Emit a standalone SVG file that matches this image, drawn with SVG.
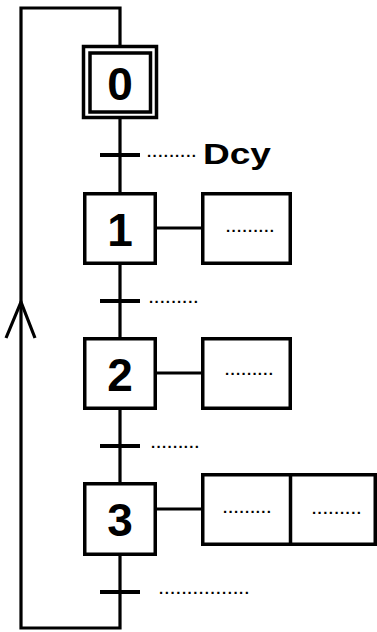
<svg xmlns="http://www.w3.org/2000/svg" width="377" height="632" viewBox="0 0 377 632">
<style>
.box{fill:#fff;stroke:#000;stroke-width:3.5}
.ln{fill:none;stroke:#000;stroke-width:3.2}
.bar{stroke:#000;stroke-width:4}
.num{font-family:"Liberation Sans",Arial,sans-serif;font-weight:bold;font-size:46px;text-anchor:middle;fill:#000}
.dots{font-family:"Liberation Sans",Arial,sans-serif;font-weight:bold;font-size:15px;fill:#000}
.lbl{font-family:"Liberation Sans",Arial,sans-serif;font-weight:bold;font-size:30px;fill:#000}
</style>
<rect width="377" height="632" fill="#fff"/>
<g id="connectors">
<path class="ln" d="M120,119 V192 M120,265 V337 M120,410 V482 M120,556 V628 H21 V8 H120 V45"/>
<path class="ln" d="M6,338 L21,302 L35,338"/>
<path class="ln" d="M157,228 H201 M157,373 H201 M157,509 H201"/>
</g>
<g id="step0">
<rect class="box" x="83.5" y="46.5" width="73" height="71"/>
<rect class="box" x="90" y="53" width="60.5" height="59"/>
<text class="num" x="120" y="100">0</text>
</g>
<g id="t1">
<line class="bar" x1="100" y1="155" x2="140" y2="155"/>
<text class="dots" x="147" y="157" textLength="49" lengthAdjust="spacing">.........</text>
<text class="lbl" x="203" y="164" textLength="68" lengthAdjust="spacingAndGlyphs">Dcy</text>
</g>
<g id="step1">
<rect class="box" x="84.75" y="193.75" width="70.5" height="69.5"/>
<text class="num" x="120" y="246">1</text>
</g>
<g id="action1">
<rect class="box" x="202.75" y="193.75" width="87.5" height="69.5"/>
<text class="dots" x="226" y="232" textLength="48" lengthAdjust="spacing">.........</text>
</g>
<g id="t2">
<line class="bar" x1="100" y1="301" x2="140" y2="301"/>
<text class="dots" x="149" y="303" textLength="49" lengthAdjust="spacing">.........</text>
</g>
<g id="step2">
<rect class="box" x="84.75" y="338.75" width="70.5" height="69.5"/>
<text class="num" x="120" y="391">2</text>
</g>
<g id="action2">
<rect class="box" x="202.75" y="338.75" width="87.5" height="69.5"/>
<text class="dots" x="225" y="375" textLength="48" lengthAdjust="spacing">.........</text>
</g>
<g id="t3">
<line class="bar" x1="100" y1="446" x2="140" y2="446"/>
<text class="dots" x="151" y="448" textLength="48" lengthAdjust="spacing">.........</text>
</g>
<g id="step3">
<rect class="box" x="84.75" y="483.75" width="70.5" height="70.5"/>
<text class="num" x="120" y="536">3</text>
</g>
<g id="action3">
<rect class="box" x="202.75" y="474.75" width="172.5" height="69.5"/>
<line class="ln" x1="290.5" y1="474.75" x2="290.5" y2="544.25" style="stroke-width:3.5"/>
<text class="dots" x="223" y="513" textLength="48" lengthAdjust="spacing">.........</text>
<text class="dots" x="312" y="514" textLength="49" lengthAdjust="spacing">.........</text>
</g>
<g id="t4">
<line class="bar" x1="100" y1="592" x2="140" y2="592"/>
<text class="dots" x="159" y="594" textLength="90" lengthAdjust="spacing">................</text>
</g>
</svg>
